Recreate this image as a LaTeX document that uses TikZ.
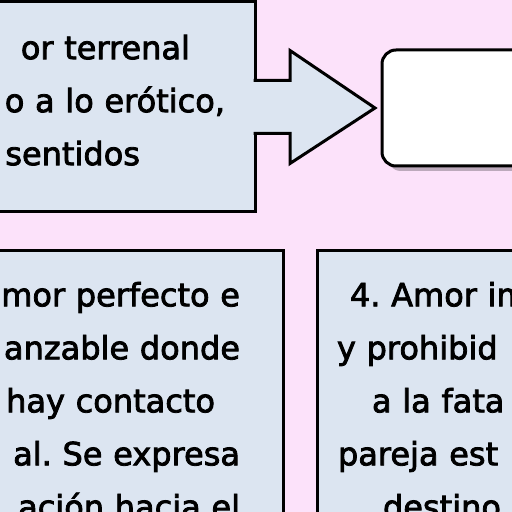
\documentclass[tikz,border=0pt]{standalone}
\usepackage{fontspec}
\setmainfont{DejaVu Sans}[FakeBold=2.5]
\usetikzlibrary{shapes,arrows,positioning,shadows}

\definecolor{fondo}{RGB}{252,226,250}
\definecolor{cajaazul}{RGB}{220,229,241}

\begin{document}
\frenchspacing
\begin{tikzpicture}[x=1pt, y=1pt,
  caja/.style={draw, rectangle, line width=3pt, outer sep=0pt, fill=cajaazul, font=\fontsize{32}{53}\selectfont},
  flecha/.style={line width=3pt, line join=miter}]
% Fondo
\useasboundingbox (0,0) rectangle (512,512);
\fill[fondo] (0,0) rectangle (512,512);
\clip (0,0) rectangle (512,512);

% Amor terrenal
\node[caja, anchor=east, minimum height=210pt, text width=300pt, align=right, inner xsep=30pt] (terrenal) at (255,405) {or terrenal\hspace{35pt}\mbox{}\\o a lo erótico,\\sentidos\hspace{85pt}\rule[-14pt]{0pt}{0pt}};

% Caja blanca
\node[draw, rectangle, rounded corners=14pt, line width=3pt, outer sep=0pt, fill=white, minimum width=200pt, minimum height=116pt, anchor=west, drop shadow={shadow xshift=5pt, shadow yshift=-5pt, fill=black, opacity=0.25}] (resultado) at (382,404) {};

% Flecha
\coordinate (punta) at ([xshift=-7pt]resultado.west);
\fill[cajaazul] ([shift={(-2pt,26.5pt)}]terrenal.east) -- ([shift={(35pt,26.5pt)}]terrenal.east) -- ([shift={(35pt,56.5pt)}]terrenal.east) -- (punta) -- ([shift={(35pt,-56.5pt)}]terrenal.east) -- ([shift={(35pt,-26.5pt)}]terrenal.east) -- ([shift={(-2pt,-26.5pt)}]terrenal.east) -- cycle;
\draw[flecha] ([shift={(-1.5pt,26.5pt)}]terrenal.east) -- ([shift={(35pt,26.5pt)}]terrenal.east) -- ([shift={(35pt,56.5pt)}]terrenal.east) -- (punta) -- ([shift={(35pt,-56.5pt)}]terrenal.east) -- ([shift={(35pt,-26.5pt)}]terrenal.east) -- ([shift={(-1.5pt,-26.5pt)}]terrenal.east);

% Amor perfecto
\node[caja, anchor=north east, text width=260pt, align=right, inner xsep=43pt, inner ysep=31pt] (perfecto) at (283,261) {mor perfecto e\\anzable donde\\hay contacto\hspace{25pt}\mbox{}\\al. Se expresa\\ación hacia el};

% Amor imposible
\node[caja, anchor=north west, text width=250pt, align=left, inner xsep=20pt, inner ysep=31pt] (imposible) at ([xshift=34pt]perfecto.north east) {\hspace*{13pt}4. Amor im\\y prohibid\\\hspace*{35pt}a la fata\\\hspace*{1pt}pareja est\\\hspace*{46pt}destino};
\end{tikzpicture}
\end{document}
